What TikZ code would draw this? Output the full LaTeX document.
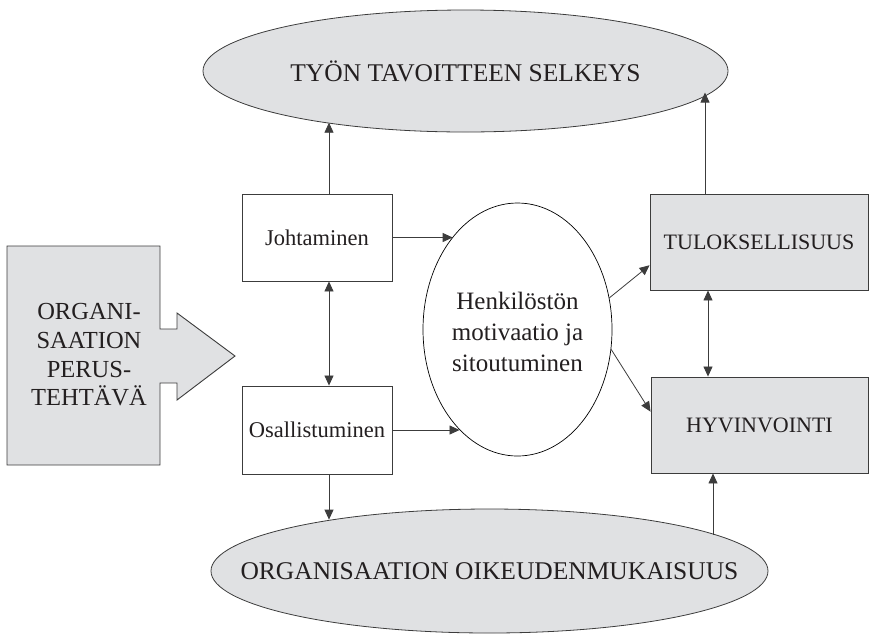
\documentclass[tikz,border=0pt]{standalone}
\usepackage{fontspec}
\setmainfont{Liberation Serif}
\usetikzlibrary{arrows.meta,calc,shapes.geometric}
\definecolor{shade}{RGB}{224,225,227}
\definecolor{ink}{RGB}{35,31,32}
\definecolor{edge}{RGB}{60,60,60}
\begin{document}
\begin{tikzpicture}[x=1pt,y=-1pt,
  every node/.style={text=ink},
  bigell/.style={ellipse,draw=edge,line width=0.8pt,fill=shade,inner sep=0pt},
  bigtxt/.style={font=\fontsize{25.5}{30}\selectfont},
  whitebox/.style={rectangle,draw=edge,line width=0.9pt,fill=white,inner sep=0pt,font=\fontsize{22.5}{27}\selectfont},
  graybox/.style={rectangle,draw=edge,line width=0.9pt,fill=shade,inner sep=0pt,font=\fontsize{22}{27}\selectfont},
  arr/.style={draw=edge,line width=0.8pt,-{Triangle[length=10pt,width=9pt]}},
  darr/.style={draw=edge,line width=0.8pt,{Triangle[length=10pt,width=9pt]}-{Triangle[length=10pt,width=9pt]}}]
\path[use as bounding box] (0,0) rectangle (869,638);

% left big arrow shape
\draw[draw=edge,line width=0.9pt,fill=shade]
  (7,246) -- (160,246) -- (160,329) -- (177,329) -- (177,313) -- (235,356)
  -- (177,400) -- (177,383) -- (160,383) -- (160,465) -- (7,465) -- cycle;
\node[align=center,font=\fontsize{24.5}{28.7}\selectfont] (org) at (89,355)
  {ORGANI-\\SAATION\\PERUS-\\TEHTÄVÄ};

% ellipses (shapes drawn empty, labels placed on top)
\node[bigell,minimum width=525pt,minimum height=122pt] (top) at (465.5,71) {};
\node[bigtxt] (toplbl) at (top.center) {TYÖN TAVOITTEEN SELKEYS};
\node[bigell,minimum width=557pt,minimum height=124pt] (bot) at (489.5,571) {};
\node[bigtxt] (botlbl) at (bot.center) {ORGANISAATION OIKEUDENMUKAISUUS};
\node[ellipse,draw=black,line width=0.7pt,fill=white,inner sep=0pt,minimum width=189pt,minimum height=253pt]
  (mid) at (517.5,329.5) {};
\node[align=center,font=\fontsize{25}{31}\selectfont] (midlbl) at (517.5,332)
  {Henkilöstön\\motivaatio ja\\sitoutuminen};

% boxes
\node[whitebox,minimum width=150pt,minimum height=87pt] (jo) at (317,237.5) {Johtaminen};
\node[whitebox,minimum width=150pt,minimum height=88pt] (os) at (317,430) {Osallistuminen};
\node[graybox,minimum width=218pt,minimum height=96pt] (tul) at (759,242) {TULOKSELLISUUS};
\node[graybox,minimum width=217pt,minimum height=96pt] (hyv) at (759.5,425) {HYVINVOINTI};

% guide coordinates for vertical connectors
\coordinate (vx) at (329,0);
\coordinate (vx2) at (708,0);
\coordinate (vx3) at (705,0);
\coordinate (vx4) at (713,0);

% connectors
\draw[arr] (jo.north -| vx) -- (top.200.9 -| vx);
\draw[darr] (jo.south -| vx) -- (os.north -| vx);
\draw[arr] (os.south -| vx) -- (bot.162.4 -| vx);
\draw[arr] (jo.east) -- (jo.east -| mid.125.5);
\draw[arr] (os.east) -- (os.east -| mid.240.3);
\draw[arr] (mid.19.2) -- (tul.192.9);
\draw[arr] (mid.-12.5) -- (hyv.173.2);
\draw[darr] (tul.south -| vx2) -- (hyv.north -| vx2);
\draw[arr] (tul.north -| vx3) -- (top.-5.96 -| vx3);
\draw[arr] (bot.9.4 -| vx4) -- (hyv.south -| vx4);
\end{tikzpicture}
\end{document}
